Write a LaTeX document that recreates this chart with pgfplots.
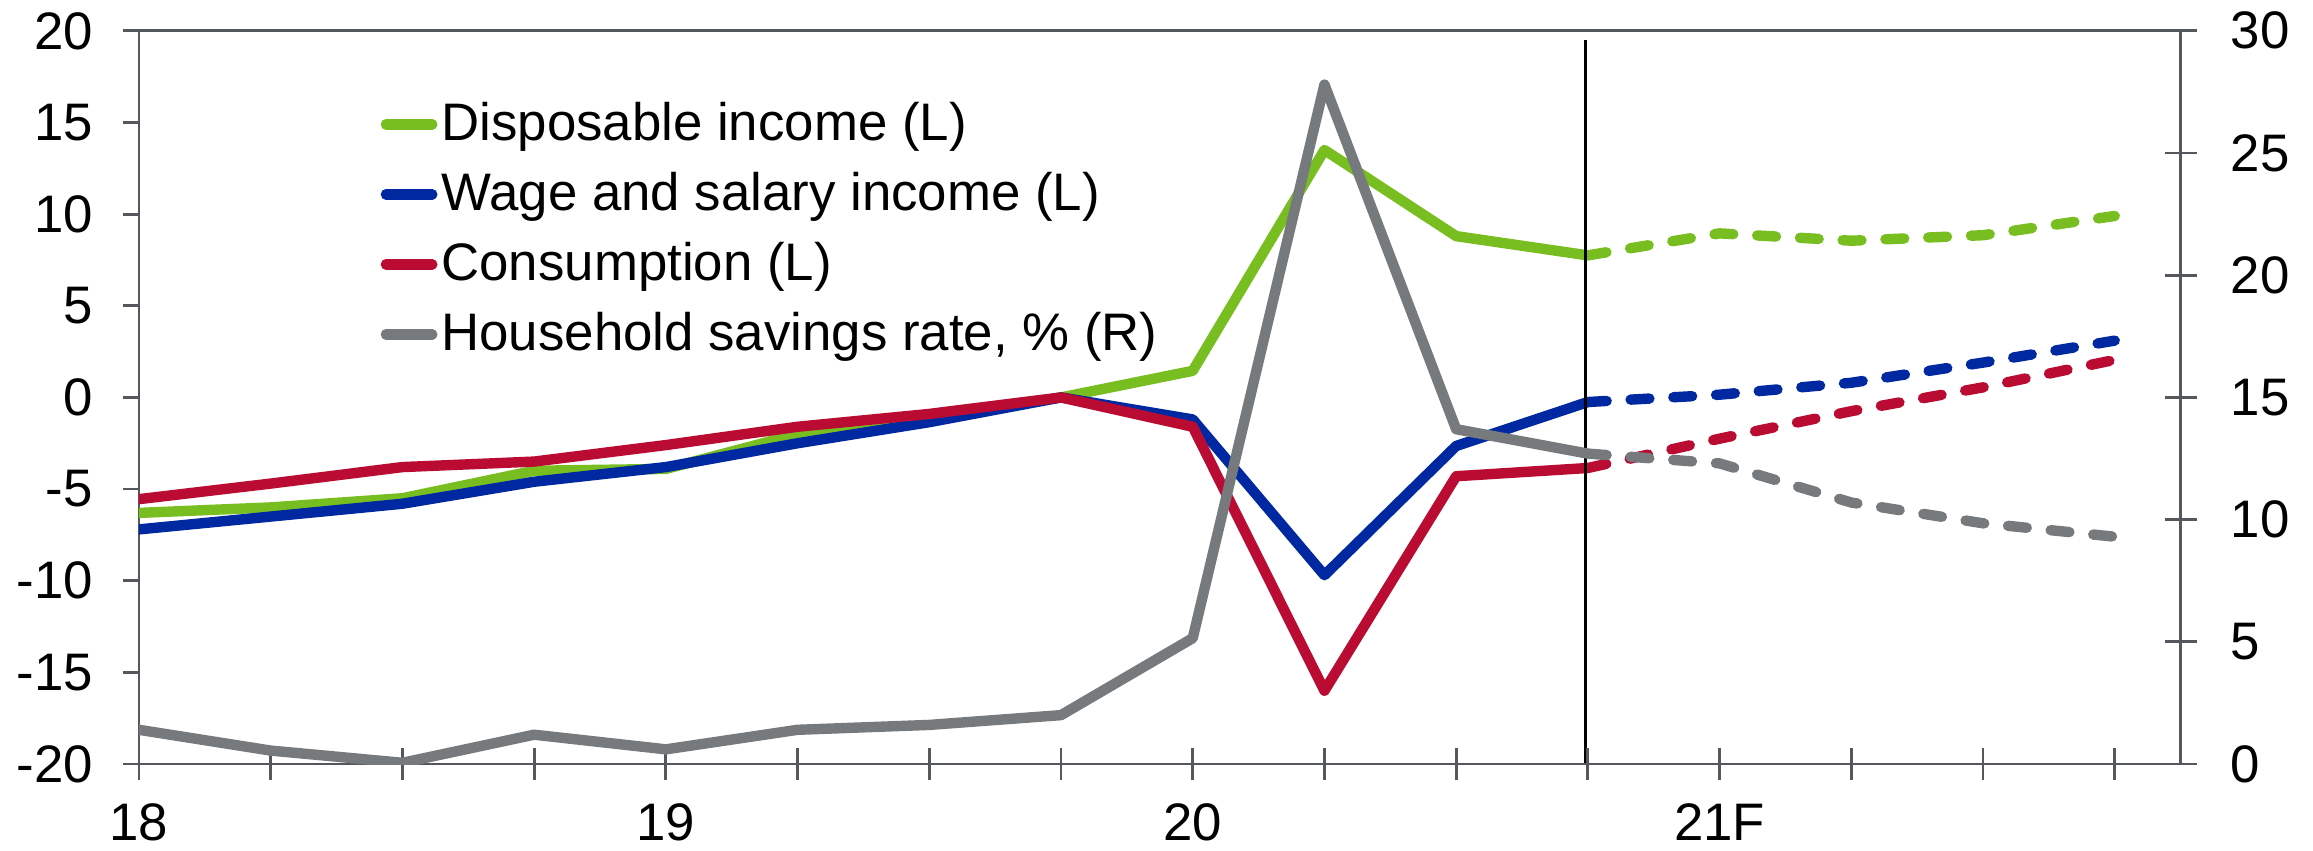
\documentclass[border=0pt]{standalone}
\usepackage{fontspec}
\setmainfont{Liberation Sans}
\usepackage{pgfplots}
\usepackage{pgfplotstable}
\pgfplotsset{compat=1.18}
\definecolor{cgreen}{RGB}{120,190,32}
\definecolor{cblue}{RGB}{0,40,160}
\definecolor{cred}{RGB}{186,12,50}
\definecolor{cgray}{RGB}{118,122,125}
\definecolor{axgray}{RGB}{84,88,92}

\pgfplotstableread{
x green blue red gray
18.00 -6.3 -7.2 -5.55 1.4
18.25 -6.0 -6.5 -4.7 0.55
18.50 -5.5 -5.8 -3.8 0.05
18.75 -4.0 -4.6 -3.5 1.2
19.00 -3.9 -3.8 -2.6 0.6
19.25 -2.0 -2.5 -1.6 1.4
19.50 -1.1 -1.35 -0.9 1.6
19.75 0.0 0.0 0.0 2.0
20.00 1.45 -1.2 -1.6 5.15
20.25 13.5 -9.7 -16.0 27.8
20.50 8.8 -2.65 -4.3 13.7
20.75 7.75 -0.25 -3.85 12.7
}\hist

\pgfplotstableread{
x green blue red gray
20.75 7.75 -0.25 -3.85 12.7
21.00 8.95 0.15 -2.25 12.3
21.25 8.55 0.8 -0.75 10.7
21.50 8.85 1.9 0.55 9.85
21.75 9.9 3.1 2.05 9.3
}\fcst

\pgfplotsset{
  ser/.style={line width=2.6pt, line cap=round, line join=round},
  fc/.style={ser, dash pattern=on 4.7pt off 6.0pt},
  myfont/.style={font=\fontsize{13.2}{15}\selectfont},
}

\begin{document}
\begin{tikzpicture}
\useasboundingbox (-34.75pt,-21.7pt) rectangle (543.5pt,191pt);
\begin{axis}[
  scale only axis, width=510.4pt, height=183.3pt,
  xmin=18, xmax=21.875, ymin=-20, ymax=20,
  axis line style={axgray, line width=0.7pt},
  xtick=\empty,
  ytick={-20,-15,...,20},
  ytick pos=left,
  tick align=outside, major tick length=4pt,
  tick style={axgray, line width=0.7pt},
  yticklabel style={myfont, black, xshift=-4pt},
  /pgf/number format/assume math mode=true,
  legend style={draw=none, fill=none, at={(0.118,0.900)}, anchor=north west,
    inner sep=0pt, row sep=6pt, column sep=1pt, myfont,
    nodes={inner sep=0pt, text height=9pt, text depth=2.5pt}},
  legend cell align=left,
  legend image code/.code={\draw[#1, line width=2.6pt, line cap=round] (1.2pt,0.9pt) -- (12.8pt,0.9pt);},
]
\addplot[ser, cgreen] table[x=x, y=green] {\hist};
\addlegendentry{Disposable income (L)}
\addplot[ser, cblue] table[x=x, y=blue] {\hist};
\addlegendentry{Wage and salary income (L)}
\addplot[ser, cred] table[x=x, y=red] {\hist};
\addlegendentry{Consumption (L)}
\addlegendimage{cgray}
\addlegendentry{Household savings rate, \% (R)}
\addplot[fc, cgreen, forget plot] table[x=x, y=green] {\fcst};
\addplot[fc, cblue, forget plot] table[x=x, y=blue] {\fcst};
\addplot[fc, cred, forget plot] table[x=x, y=red] {\fcst};
\draw[black, line width=0.7pt] (axis cs:20.745,-20) -- (axis cs:20.745,19.5);
\end{axis}
\begin{axis}[
  scale only axis, width=510.4pt, height=183.3pt,
  xmin=18, xmax=21.875, ymin=0, ymax=30,
  axis y line*=right, axis x line*=bottom,
  axis line style={axgray, line width=0.7pt},
  xtick={18,18.25,18.5,18.75,19,19.25,19.5,19.75,20,20.25,20.5,20.75,21,21.25,21.5,21.75},
  xticklabels={18,,,,19,,,,20,,,,21F,,,},
  ytick={0,5,...,30},
  tick align=center, major tick length=8pt,
  tick style={axgray, line width=0.7pt},
  yticklabel style={myfont, black, xshift=5pt},
  xticklabel style={myfont, black, yshift=-2.3pt},
  /pgf/number format/assume math mode=true,
]
\addplot[ser, cgray] table[x=x, y=gray] {\hist};
\addplot[fc, cgray] table[x=x, y=gray] {\fcst};
\end{axis}
\end{tikzpicture}
\end{document}
